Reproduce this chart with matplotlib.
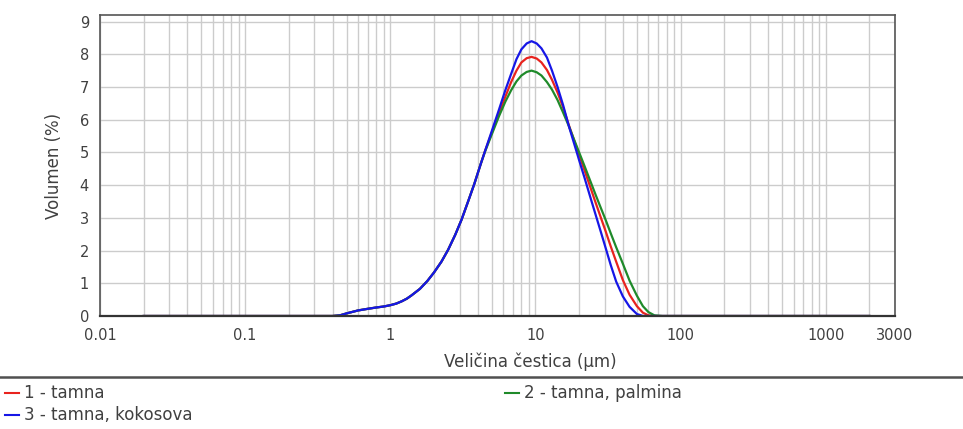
import numpy as np
import matplotlib
matplotlib.use("Agg")
import matplotlib.pyplot as plt
from matplotlib.lines import Line2D
from matplotlib.ticker import FixedLocator, NullFormatter, LogLocator

# particle size classes (um)
sizes = [0.02, 0.2, 0.4, 0.45, 0.5, 0.6, 0.7, 0.8, 0.9, 1.0, 1.1, 1.2, 1.3, 1.4,
         1.6, 1.8, 2.0, 2.25, 2.5, 2.8, 3.1, 3.5, 3.8, 4.2, 4.5, 5.0, 5.6, 6.2,
         6.8, 7.4, 8.0, 8.7, 9.4, 10.2, 11.0, 12.0, 13.0, 14.2, 15.5, 17.0, 18.5,
         20.0, 21.8, 24.0, 26.0, 28.0, 30.5, 33.0, 36.0, 40.0, 44.5, 50.0, 55.0,
         60.0, 66.0, 75.0, 2000.0]

# volume (%) for each sample
tamna = [0, 0, 0, 0.02, 0.08, 0.17, 0.22, 0.26, 0.29, 0.33, 0.38, 0.45, 0.53, 0.63,
         0.83, 1.07, 1.33, 1.66, 2.02, 2.48, 2.95, 3.6, 4.05, 4.65, 5.05, 5.6, 6.2, 6.7,
         7.15, 7.5, 7.75, 7.88, 7.92, 7.87, 7.75, 7.52, 7.22, 6.83, 6.38, 5.83, 5.36,
         4.92, 4.45, 3.91, 3.46, 3.05, 2.58, 2.13, 1.66, 1.1, 0.65, 0.3, 0.1,
         0.02, 0, 0, 0]
palmina = [0, 0, 0, 0.02, 0.08, 0.17, 0.22, 0.26, 0.29, 0.33, 0.38, 0.45, 0.53, 0.63,
           0.83, 1.07, 1.33, 1.66, 2.02, 2.48, 2.95, 3.6, 4.05, 4.65, 5.03, 5.55, 6.1, 6.55,
           6.9, 7.17, 7.35, 7.46, 7.5, 7.45, 7.35, 7.15, 6.92, 6.6, 6.22, 5.8, 5.38,
           5.0, 4.58, 4.1, 3.7, 3.34, 2.93, 2.53, 2.1, 1.6, 1.08, 0.62, 0.3,
           0.12, 0.02, 0, 0]
kokosova = [0, 0, 0, 0.02, 0.08, 0.17, 0.22, 0.26, 0.29, 0.33, 0.38, 0.45, 0.53, 0.63,
            0.83, 1.07, 1.33, 1.66, 2.02, 2.48, 2.95, 3.6, 4.05, 4.65, 5.05, 5.65, 6.3, 6.9,
            7.4, 7.85, 8.15, 8.33, 8.4, 8.33, 8.18, 7.9, 7.5, 7.0, 6.45, 5.8, 5.26,
            4.76, 4.22, 3.6, 3.09, 2.62, 2.07, 1.56, 1.05, 0.6, 0.28, 0.06, 0,
            0, 0, 0, 0]

x_ticks = [0.01, 0.1, 1, 10, 100, 1000, 3000]
x_labels = ["0.01", "0.1", "1", "10", "100", "1000", "3000"]
y_ticks = list(range(0, 10))

labels = ["1 - tamna", "2 - tamna, palmina", "3 - tamna, kokosova"]
colors = ["#e8231e", "#1f8a2a", "#1616e6"]

txt = "#404040"
plt.rcParams['font.family'] = ['DejaVu Sans']

fig = plt.figure(figsize=(9.63, 4.29), dpi=100)
ax = fig.add_axes([100/963, 1 - 316/429, 795/963, 301/429])

ax.plot(sizes, tamna, color=colors[0], lw=1.6)
ax.plot(sizes, palmina, color=colors[1], lw=1.6)
ax.plot(sizes, kokosova, color=colors[2], lw=1.6)

ax.set_xscale('log')
ax.set_xlim(0.01, 3000)
ax.set_ylim(0, 9.2)

ax.xaxis.set_major_locator(FixedLocator(x_ticks))
ax.set_xticklabels(x_labels)
ax.xaxis.set_minor_locator(LogLocator(base=10, subs=np.arange(2, 10)))
ax.xaxis.set_minor_formatter(NullFormatter())
ax.set_yticks(y_ticks)

ax.grid(True, which='major', color='#cccccc', lw=1.0)
ax.grid(True, which='minor', axis='x', color='#cccccc', lw=1.0)
ax.set_axisbelow(True)
ax.tick_params(which='both', length=0, labelsize=10.5, colors=txt)
ax.tick_params(axis='x', pad=9)
ax.tick_params(axis='y', pad=8)
for sp in ax.spines.values():
    sp.set_color('#555555')
    sp.set_linewidth(1.2)
ax.spines['bottom'].set_color('#333333')
ax.spines['bottom'].set_linewidth(1.6)

ax.set_ylabel("Volumen (%)", fontsize=12, color=txt, labelpad=12)
fig.text(530/963, 1 - 362/429, "Veličina čestica (µm)", fontsize=12,
         color=txt, ha='center', va='center')

# legend area below the plot
fig.add_artist(Line2D([0, 1], [1 - 377/429] * 2, color='#505050', lw=1.8))
legend_pos = [(5, 393), (505, 393), (5, 415)]
for (px, py), lab, c in zip(legend_pos, labels, colors):
    fig.add_artist(Line2D([px/963, (px + 14)/963], [1 - py/429] * 2, color=c, lw=1.5))
    fig.text((px + 19)/963, 1 - py/429, lab, fontsize=12, color=txt,
             ha='left', va='center')

fig.savefig("out.png", dpi=100)
